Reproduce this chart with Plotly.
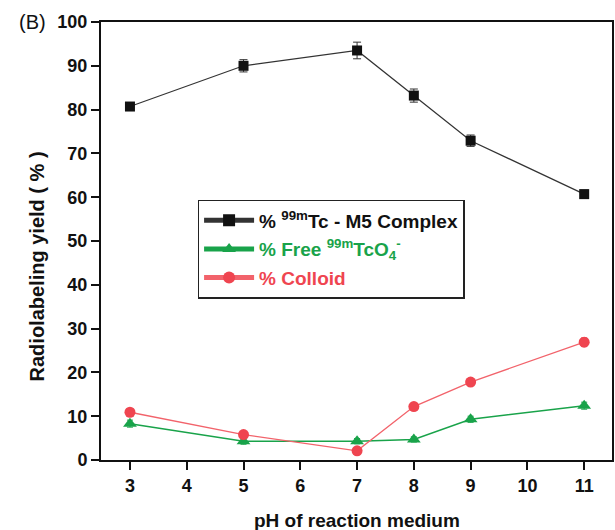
import plotly.graph_objects as go

# pH values and radiolabeling yields (%)
ph = [3, 5, 7, 8, 9, 11]
complex_yield = [80.7, 90.0, 93.5, 83.2, 72.9, 60.7]
complex_err = [0.9, 1.4, 1.9, 1.5, 1.3, 0.9]
free_tco4 = [8.3, 4.3, 4.3, 4.7, 9.3, 12.4]
free_err = [0.8, 0.7, 0.6, 0.6, 0.7, 0.8]
colloid = [10.9, 5.8, 2.1, 12.2, 17.8, 26.9]
colloid_err = [0.6, 0.6, 0.5, 0.6, 0.6, 1.0]

x_ticks = [3, 4, 5, 6, 7, 8, 9, 10, 11]
y_ticks = [0, 10, 20, 30, 40, 50, 60, 70, 80, 90, 100]

BLACK = "#111111"
GREEN = "#19a34a"
RED = "#ef4550"
FONT = "Liberation Sans, Arial, sans-serif"

fig = go.Figure()

fig.add_trace(go.Scatter(
    x=ph, y=complex_yield,
    error_y=dict(type="data", array=complex_err, color="#333333", thickness=1, width=4),
    mode="lines+markers",
    line=dict(color="#333333", width=1.2),
    marker=dict(symbol="square", size=10, color=BLACK),
    legendgroup="a",
    name=f"<span style='color:{BLACK}'><b>% <sup>99m</sup>Tc - M5 Complex</b></span>",
))
fig.add_trace(go.Scatter(
    x=ph, y=free_tco4,
    error_y=dict(type="data", array=free_err, color=GREEN, thickness=1, width=3),
    mode="lines+markers",
    line=dict(color=GREEN, width=1.5),
    marker=dict(symbol="triangle-up", size=12, color=GREEN),
    legendgroup="b",
    name=f"<span style='color:{GREEN}'><b>% Free <sup>99m</sup>TcO<sub>4</sub><sup>-</sup></b></span>",
))
fig.add_trace(go.Scatter(
    x=ph, y=colloid,
    error_y=dict(type="data", array=colloid_err, color=RED, thickness=1, width=3),
    mode="lines+markers",
    line=dict(color="#f2636b", width=1.3),
    marker=dict(symbol="circle", size=11, color=RED),
    legendgroup="c",
    name=f"<span style='color:{RED}'><b>% Colloid</b></span>",
))

fig.update_layout(
    width=615, height=530,
    margin=dict(l=101, r=1, t=22, b=70),
    plot_bgcolor="white", paper_bgcolor="white",
    font=dict(family=FONT, size=18, color=BLACK),
    legend=dict(
        x=0.189, y=0.594, xanchor="left", yanchor="top",
        bordercolor="#222222", borderwidth=1.5, bgcolor="white",
        font=dict(family=FONT, size=19),
        tracegroupgap=1, itemsizing="constant", itemwidth=50,
    ),
    xaxis=dict(
        range=[2.49, 11.49], tickmode="array", tickvals=x_ticks,
        ticks="outside", ticklen=8, tickwidth=2, tickcolor=BLACK,
        showline=True, linewidth=2, linecolor=BLACK, mirror=True,
        showgrid=False, zeroline=False,
        tickfont=dict(family=FONT, size=18, color=BLACK, weight="bold"),
    ),
    yaxis=dict(
        range=[0, 100], tickmode="array", tickvals=y_ticks,
        ticks="outside", ticklen=8, tickwidth=2, tickcolor=BLACK,
        showline=True, linewidth=2, linecolor=BLACK, mirror=True,
        showgrid=False, zeroline=False,
        tickfont=dict(family=FONT, size=18, color=BLACK, weight="bold"),
    ),
    annotations=[
        dict(text="(B)", xref="paper", yref="paper", x=-0.165, y=1.0,
             xanchor="left", yanchor="middle", showarrow=False,
             font=dict(family=FONT, size=20, color=BLACK)),
        dict(text="<b>pH of reaction medium</b>", xref="paper", yref="paper",
             x=0.5, y=-0.137, xanchor="center", yanchor="middle", showarrow=False,
             font=dict(family=FONT, size=19, color=BLACK)),
        dict(text="<b>Radiolabeling yield ( % )</b>", xref="paper", yref="paper",
             x=-0.126, y=0.441, xanchor="center", yanchor="middle", showarrow=False,
             textangle=-90, font=dict(family=FONT, size=20, color=BLACK)),
    ],
)

fig.write_html("out.html")
